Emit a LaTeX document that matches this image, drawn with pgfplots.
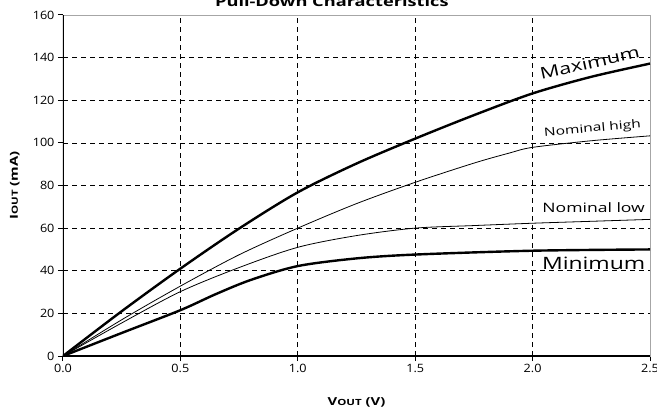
\documentclass[border=0pt]{standalone}
\usepackage{fontspec}
\setmainfont[FakeStretch=1.1]{Open Sans}
\newfontfamily\wfont[FakeStretch=1.35]{Open Sans}
\usepackage{pgfplots}
\pgfplotsset{compat=1.18}

\begin{document}
\begin{tikzpicture}
\begin{axis}[
    name=ax,
    scale only axis,
    width=587pt, height=341pt,
    xmin=0, xmax=2.5,
    ymin=0, ymax=160,
    xtick={0,0.5,1,1.5,2,2.5},
    ytick={0,20,40,60,80,100,120,140,160},
    xticklabel style={/pgf/number format/.cd, fixed, fixed zerofill, precision=1},
    /pgf/number format/assume math mode=true,
    tick label style={font=\fontsize{11.5}{13}\selectfont},
    tick align=outside,
    xtick pos=bottom, ytick pos=left,
    major tick length=5pt,
    tick style={black, line width=1pt},
    grid=major,
    grid style={black, line width=0.7pt, dash pattern=on 5pt off 4pt},
    axis line style={gray!70, line width=0.8pt},
    title={Pull-Down Characteristics},
    title style={at={(axis description cs:0.458,1)}, anchor=base, yshift=2pt, font=\wfont\bfseries\fontsize{13.5}{15}\selectfont},
    xlabel={V{\fontsize{8.5}{10}\selectfont OUT} (V)},
    xlabel style={at={(axis description cs:0.5,-0.135)}, anchor=center, font=\wfont\bfseries\fontsize{11}{12}\selectfont},
    ylabel={I{\fontsize{8.5}{10}\selectfont OUT} (mA)},
    ylabel style={at={(axis description cs:-0.082,0.5)}, anchor=center, font=\wfont\bfseries\fontsize{11}{12}\selectfont},
]
% Maximum
\addplot[black, line width=2.4pt, smooth] coordinates {
    (0,0) (0.25,21) (0.5,41) (0.75,59.8) (1.0,76.8) (1.25,90.3) (1.5,102) (1.75,113) (2.0,123.2) (2.25,131) (2.5,137.2)
};
% Nominal high
\addplot[black, line width=0.8pt, smooth] coordinates {
    (0,0) (0.25,17) (0.5,32.8) (0.75,47.5) (1.0,60) (1.25,71.5) (1.5,81.5) (1.75,90.5) (1.9,95.2) (2.0,97.9) (2.25,101) (2.5,103.3)
};
% Nominal low
\addplot[black, line width=0.8pt, smooth] coordinates {
    (0,0) (0.25,15.5) (0.5,30.2) (0.75,41.5) (1.0,51) (1.25,56.5) (1.5,60) (1.75,61.2) (2.0,62.3) (2.25,63.2) (2.5,64.1)
};
% Minimum
\addplot[black, line width=2.4pt, smooth] coordinates {
    (0,0) (0.25,10.8) (0.5,21.5) (0.65,29) (0.8,35.7) (1.0,42.2) (1.25,45.8) (1.5,47.6) (2.0,49.4) (2.5,50)
};
\draw[black, line width=2pt] (axis cs:0,160) -- (axis cs:0,0) -- (axis cs:2.5,0);
\node[rotate=12.5, font=\wfont\fontsize{16}{18}\selectfont] at (axis cs:2.243,137.5) {Maximum};
\node[rotate=5, font=\wfont\fontsize{11.5}{13}\selectfont] at (axis cs:2.255,106.5) {Nominal high};
\node[font=\wfont\fontsize{13}{15}\selectfont] at (axis cs:2.26,69.5) {Nominal low};
\node[font=\wfont\fontsize{17}{19}\selectfont, anchor=base, inner sep=0pt] at (axis cs:2.26,40.6) {Minimum};
\end{axis}
\pgfresetboundingbox
\path[use as bounding box] ([shift={(-63pt,-53pt)}]ax.south west) rectangle ([shift={(7pt,15pt)}]ax.north east);
\end{tikzpicture}
\end{document}
